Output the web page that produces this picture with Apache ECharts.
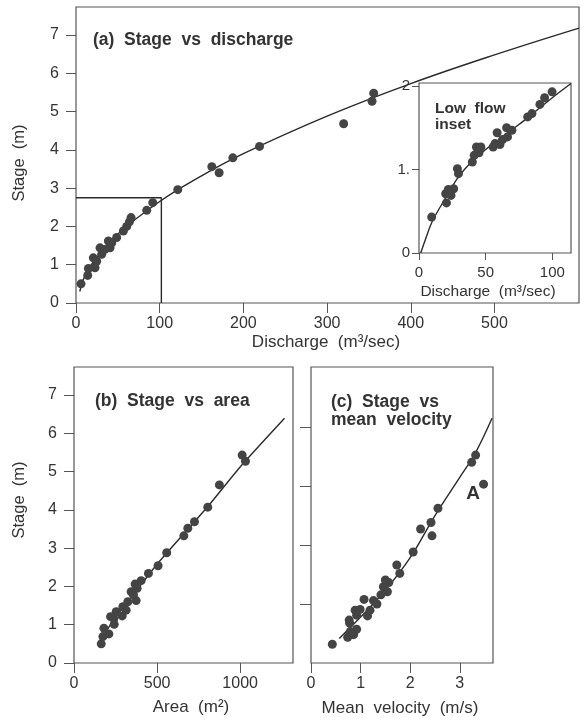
<!DOCTYPE html>
<html><head><meta charset="utf-8">
<script src="https://cdn.jsdelivr.net/npm/echarts@6/dist/echarts.min.js"></script>
<style>html,body{margin:0;padding:0;background:#fff}#c{width:584px;height:720px}</style>
</head><body><div id="c"></div>
<script>
// ---------- (a) Stage vs discharge ----------
const aDischarge = [6,14,14.8,20.7,22.7,24.7,28.7,30.7,34.6,38.7,40.7,42.7,48.6,56.6,60.6,63.8,65.8,84.5,91.7,121.6,162.3,171,187.4,219.3,319.8,353.7,355.7];
const aStage     = [0.50,0.72,0.90,1.18,0.92,1.09,1.44,1.27,1.40,1.62,1.44,1.57,1.71,1.88,2.00,2.12,2.23,2.42,2.62,2.96,3.56,3.40,3.79,4.09,4.68,5.27,5.48];
const aCurveQ = [4.5,10,20,50,100,150,200,300,400,500,601];
const aCurveH = [0.30,0.68,1.05,1.80,2.65,3.32,3.90,4.88,5.73,6.48,7.18];
const aBoxQ = [0,102,102];
const aBoxH = [2.75,2.75,0];
const aXTicks = [0,100,200,300,400,500];
const aYTicks = [0,1,2,3,4,5,6,7];

// ---------- inset: low flow ----------
const iDischarge = [9.5,20.6,20,22,24,26,28.8,29.6,40,41.4,43.1,46.4,45,55.6,57,58.6,60.7,62.7,65.7,66.4,69.7,81.5,84.7,90.7,94.2,99.8];
const iStage     = [0.43,0.60,0.71,0.76,0.69,0.77,1.01,0.95,1.09,1.17,1.27,1.27,1.20,1.27,1.31,1.44,1.30,1.36,1.50,1.39,1.47,1.63,1.67,1.78,1.86,1.93];
const iCurveQ = [1.3,5,10,20,30,40,50,60,70,80,90,100,114];
const iCurveH = [0,0.17,0.38,0.66,0.92,1.10,1.24,1.36,1.48,1.60,1.73,1.86,2.03];
const iXTicks = [0,50,100];
const iYTicks = [0,1,2];
const iYTickLabels = ['0','1.','2'];

// ---------- (b) Stage vs area ----------
const bArea  = [164,174,180,210,220,242,240,254,290,294,314,324,344,374,358,368,380,404,448,506,558,661,685,725,805,875,1012,1032];
const bStage = [0.50,0.69,0.91,0.76,1.21,1.01,1.16,1.34,1.23,1.47,1.38,1.60,1.86,1.63,1.78,2.06,1.95,2.15,2.34,2.54,2.88,3.32,3.52,3.69,4.07,4.65,5.43,5.27];
const bLineA = [175,250,350,500,800,1000,1267];
const bLineH = [0.70,1.20,1.75,2.58,4.06,5.12,6.39];
const bXTicks = [0,500,1000];

// ---------- (c) Stage vs mean velocity ----------
const cVelocity = [0.43,0.74,0.79,0.86,0.92,0.78,0.77,0.89,0.92,0.99,1.07,1.14,1.19,1.26,1.33,1.41,1.46,1.50,1.57,1.54,1.73,1.79,2.06,2.21,2.42,2.44,2.56,3.24,3.32,3.48];
const cStage    = [0.49,0.67,0.82,0.74,0.88,1.04,1.12,1.38,1.25,1.40,1.66,1.23,1.38,1.63,1.54,1.78,1.99,2.17,2.10,1.86,2.56,2.34,2.90,3.50,3.67,3.32,4.04,5.24,5.43,4.67];
const cLineV = [0.57,1.0,1.5,2.0,2.5,3.0,3.3,3.65];
const cLineH = [0.64,1.20,1.90,2.75,3.85,4.85,5.45,6.39];
const cXTicks = [0,1,2,3];
const cYTicks = [1.54,3.08,4.62,6.16];

const FONT = "'Liberation Sans', Arial, Helvetica, sans-serif";
const TXT = '#333';
const AX = '#555';
const PT = '#444';
const zip = (a, b) => a.map((v, i) => [v, b[i]]);

function axis(gi, min, max, ticks, opt) {
  opt = opt || {};
  return {
    type: 'value', gridIndex: gi, min: min, max: max, z: opt.z || 0,
    axisLine: { show: false },
    splitLine: { show: false },
    axisTick: { show: true, inside: false, length: opt.tickLen || 10,
      customValues: ticks, lineStyle: { color: AX, width: 1 } },
    axisLabel: { show: opt.noLabel ? false : true, customValues: ticks,
      margin: opt.margin || 14, fontSize: opt.fontSize || 16, color: TXT,
      fontFamily: FONT, formatter: opt.formatter || (v => String(v)) }
  };
}

const grids = [
  { left: 76, top: 7, width: 503, height: 296 },
  { left: 419, top: 83, width: 152, height: 170, z: 5 },
  { left: 74, top: 367, width: 219, height: 296 },
  { left: 311, top: 367, width: 182, height: 296 }
].map(g => Object.assign({ show: true, borderColor: AX, borderWidth: 1.2, backgroundColor: '#fff' }, g));

const xAxes = [
  axis(0, 0, 601, aXTicks, { margin: 13 }),
  axis(1, 0, 114, iXTicks, { margin: 12, tickLen: 7, fontSize: 15, z: 6 }),
  axis(2, 0, 1318, bXTicks, { margin: 13 }),
  axis(3, 0, 3.67, cXTicks, { margin: 13 })
];
const yAxes = [
  axis(0, 0, 7.73, aYTicks, { margin: 17 }),
  axis(1, 0, 2.036, iYTicks, { margin: 9, tickLen: 7, fontSize: 15, z: 6,
      formatter: v => iYTickLabels[iYTicks.indexOf(v)] }),
  axis(2, 0, 7.73, aYTicks, { margin: 17 }),
  axis(3, 0, 7.73, cYTicks, { noLabel: true, tickLen: 11 })
];

function scatter(i, data, z) {
  return { type: 'scatter', xAxisIndex: i, yAxisIndex: i, data: data, symbolSize: 9,
    itemStyle: { color: PT, opacity: 1 }, z: z || 3, silent: true };
}
function line(i, data, z, smooth) {
  return { type: 'line', xAxisIndex: i, yAxisIndex: i, data: data, showSymbol: false,
    smooth: smooth === undefined ? 0.4 : smooth, lineStyle: { color: '#2a2a2a', width: 1.4 },
    z: z || 2, silent: true, animation: false };
}

function txt(x, y, s, size, bold, extra) {
  return Object.assign({ type: 'text', x: x, y: y, silent: true,
    style: { text: s, fontSize: size, fontWeight: bold ? 'bold' : 'normal', fontFamily: FONT,
      fill: TXT, align: 'left', verticalAlign: 'middle' } }, extra || {});
}
function ctxt(x, y, s, size, bold, extra) {
  const t = txt(x, y, s, size, bold, extra);
  t.style.align = 'center';
  return t;
}

const chart = echarts.init(document.getElementById('c'), null, { renderer: 'canvas' });
chart.setOption({
  animation: false,
  backgroundColor: '#fff',
  grid: grids,
  xAxis: xAxes,
  yAxis: yAxes,
  series: [
    line(0, zip(aCurveQ, aCurveH), 1),
    line(0, zip(aBoxQ, aBoxH), 1, false),
    scatter(0, zip(aDischarge, aStage), 2),
    line(1, zip(iCurveQ, iCurveH), 7),
    scatter(1, zip(iDischarge, iStage), 8),
    line(2, zip(bLineA, bLineH), 2, 0.2),
    scatter(2, zip(bArea, bStage), 3),
    line(3, zip(cLineV, cLineH), 2),
    scatter(3, zip(cVelocity, cStage), 3)
  ],
  graphic: [
    txt(93, 40, '(a)  Stage  vs  discharge', 17.5, true),
    txt(435, 109, 'Low  flow', 15.5, true, { z: 100 }),
    txt(435, 125, 'inset', 15.5, true, { z: 100 }),
    txt(95, 401, '(b)  Stage  vs  area', 17.5, true),
    txt(331, 402, '(c)  Stage  vs', 17.5, true),
    txt(331, 420, 'mean  velocity', 17.5, true),
    ctxt(473, 494, 'A', 19, true),
    ctxt(19, 163, 'Stage  (m)', 16.5, false, { rotation: Math.PI / 2 }),
    ctxt(19, 500, 'Stage  (m)', 16.5, false, { rotation: Math.PI / 2 }),
    ctxt(326, 342, 'Discharge  (m\u00b3/sec)', 17, false),
    ctxt(488, 292, 'Discharge  (m\u00b3/sec)', 15.5, false, { z: 100 }),
    ctxt(191, 707, 'Area  (m\u00b2)', 17, false),
    ctxt(400, 708, 'Mean  velocity  (m/s)', 17, false)
  ]
});
</script></body></html>
